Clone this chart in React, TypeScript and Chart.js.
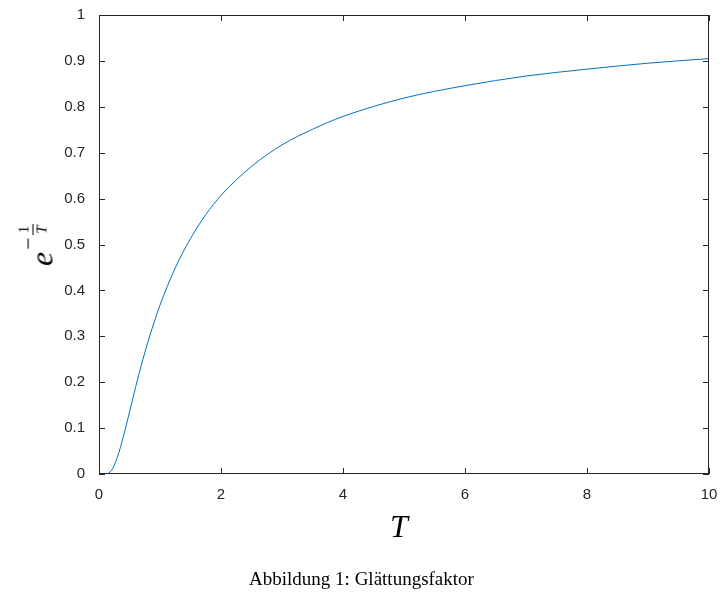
import { Chart, registerables } from "chart.js";
import { useEffect, useRef } from "react";

Chart.register(...registerables);

// values
const tValues = [0, 0.1, 0.2, 0.3, 0.4, 0.5, 0.6, 0.7, 0.8, 0.9, 1, 1.25, 1.5, 1.75, 2, 2.5, 3, 3.5, 4, 5, 6, 7, 8, 9, 10];
const yValues = [0, 0, 0.007, 0.036, 0.082, 0.135, 0.189, 0.24, 0.287, 0.329, 0.368, 0.449, 0.513, 0.565, 0.607, 0.67, 0.717, 0.751, 0.779, 0.819, 0.846, 0.867, 0.882, 0.895, 0.905];
const xTicks = [0, 2, 4, 6, 8, 10];
const yTicks = [0, 0.1, 0.2, 0.3, 0.4, 0.5, 0.6, 0.7, 0.8, 0.9, 1];

const frame = {
  id: "frame",
  afterDraw(chart: Chart) {
    const { ctx, chartArea: a, scales } = chart;
    ctx.save();
    ctx.strokeStyle = "#262626";
    ctx.lineWidth = 1;
    ctx.strokeRect(a.left + 0.5, a.top + 0.5, a.right - a.left - 1, a.bottom - a.top - 1);
    ctx.beginPath();
    for (const v of xTicks) {
      const x = Math.round(scales.x.getPixelForValue(v)) + 0.5;
      ctx.moveTo(x, a.bottom); ctx.lineTo(x, a.bottom - 6);
      ctx.moveTo(x, a.top); ctx.lineTo(x, a.top + 6);
    }
    for (const v of yTicks) {
      const y = Math.round(scales.y.getPixelForValue(v)) + 0.5;
      ctx.moveTo(a.left, y); ctx.lineTo(a.left + 6, y);
      ctx.moveTo(a.right, y); ctx.lineTo(a.right - 6, y);
    }
    ctx.stroke();
    ctx.restore();
  },
};

export default function App() {
  const canvasRef = useRef<HTMLCanvasElement>(null);

  useEffect(() => {
    const ctx = canvasRef.current?.getContext("2d");
    if (!ctx) return;
    const chart = new Chart(ctx, {
      type: "line",
      data: {
        datasets: [{
          data: tValues.map((t, i) => ({ x: t, y: yValues[i] })),
          borderColor: "#0072BD",
          borderWidth: 1,
          pointRadius: 0,
          cubicInterpolationMode: "monotone",
        }],
      },
      options: {
        responsive: false,
        animation: false,
        layout: { padding: { top: 12, right: 14 } },
        plugins: { legend: { display: false }, tooltip: { enabled: false } },
        scales: {
          x: {
            type: "linear", min: 0, max: 10,
            afterFit: (s: any) => { s.height = 129; },
            afterBuildTicks: (s: any) => { s.ticks = xTicks.map((v) => ({ value: v })); },
            grid: { display: false },
            border: { display: false },
            ticks: { color: "#262626", font: { family: "Liberation Sans", size: 15 }, padding: 4, callback: (v: any) => String(v) },
          },
          y: {
            type: "linear", min: 0, max: 1,
            afterFit: (s: any) => { s.width = 99; },
            afterBuildTicks: (s: any) => { s.ticks = yTicks.map((v) => ({ value: v })); },
            grid: { display: false },
            border: { display: false },
            ticks: { color: "#262626", font: { family: "Liberation Sans", size: 15 }, padding: 6, callback: (v: any) => String(v) },
          },
        },
      },
      plugins: [frame],
    });
    return () => chart.destroy();
  }, []);

  return (
    <div style={{ position: "fixed", left: 0, top: 0, width: 723, height: 603, background: "#fff" }}>
      <canvas ref={canvasRef} width={723} height={603} />
      <div style={{ position: "absolute", left: 390, top: 508, fontFamily: "Liberation Serif", fontStyle: "italic", fontSize: 32 }}>T</div>
      <div style={{ position: "absolute", left: 38, top: 245, transform: "translate(-50%,-50%) rotate(-90deg)", fontFamily: "Liberation Serif", fontStyle: "italic", display: "flex", alignItems: "flex-start", whiteSpace: "nowrap" }}>
        <span style={{ fontSize: 32, marginTop: 8 }}>e</span>
        <span style={{ fontSize: 22, fontStyle: "normal", marginLeft: 2 }}>−</span>
        <span style={{ display: "inline-flex", flexDirection: "column", alignItems: "center", fontSize: 15, marginLeft: 2 }}>
          <span style={{ fontStyle: "normal", borderBottom: "1px solid #000", padding: "0 2px" }}>1</span>
          <span>T</span>
        </span>
      </div>
      <div style={{ position: "absolute", left: 0, width: 723, top: 568, textAlign: "center", fontFamily: "Liberation Serif", fontSize: 19 }}>
        Abbildung 1: Glättungsfaktor
      </div>
    </div>
  );
}
